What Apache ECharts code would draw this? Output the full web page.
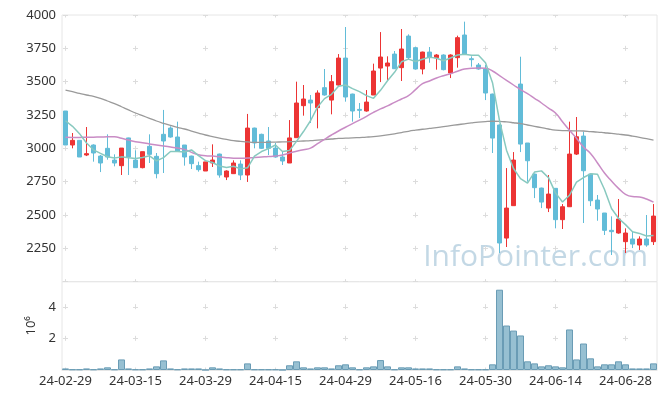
<!DOCTYPE html>
<html>
<head>
<meta charset="utf-8">
<script src="https://cdn.jsdelivr.net/npm/echarts@6/dist/echarts.min.js"></script>
<style>
  html, body { margin: 0; padding: 0; background: #fff; }
  #chart { width: 665px; height: 399px; }
</style>
</head>
<body>
<div id="chart"></div>
<script>
const dates = [
  "24-02-29",
  "24-03-04","24-03-05","24-03-06","24-03-07","24-03-08","24-03-11","24-03-12","24-03-13","24-03-14","24-03-15",
  "24-03-18","24-03-19","24-03-20","24-03-21","24-03-22","24-03-25","24-03-26","24-03-27","24-03-28","24-03-29",
  "24-04-01","24-04-02","24-04-03","24-04-04","24-04-05","24-04-08","24-04-09","24-04-11","24-04-12","24-04-15",
  "24-04-16","24-04-17","24-04-18","24-04-19","24-04-22","24-04-23","24-04-24","24-04-25","24-04-26","24-04-29",
  "24-04-30","24-05-02","24-05-03","24-05-07","24-05-08","24-05-09","24-05-10","24-05-13","24-05-14","24-05-16",
  "24-05-17","24-05-20","24-05-21","24-05-22","24-05-23","24-05-24","24-05-27","24-05-28","24-05-29","24-05-30",
  "24-05-31","24-06-03","24-06-04","24-06-05","24-06-07","24-06-10","24-06-11","24-06-12","24-06-13","24-06-14",
  "24-06-17","24-06-18","24-06-19","24-06-20","24-06-21","24-06-24","24-06-25","24-06-26","24-06-27","24-06-28",
  "24-07-01","24-07-02","24-07-03","24-07-04"
];

const opens = [
  3280,3025,3060,2950,3025,2942,3000,2912,2870,3078,
  2912,2855,3015,2940,3105,3152,3085,3025,2942,2870,
  2830,2890,2957,2785,2810,2882,2800,3152,3105,3055,
  3002,2935,2890,3080,3320,3362,3305,3455,3362,3475,
  3677,3407,3292,3280,3400,3602,3617,3707,3605,3842,
  3755,3595,3722,3680,3700,3565,3680,3850,3672,3625,
  3595,3407,3175,2327,2570,3482,3040,2807,2702,2552,
  2700,2465,2562,2957,3092,2807,2612,2515,2385,2365,
  2300,2320,2275,2320,2300
];
const closes = [
  3025,3060,2935,2960,2965,2890,2935,2890,3002,2935,
  2855,2975,2955,2810,3055,3085,2980,2935,2885,2840,
  2898,2912,2800,2830,2890,2800,3152,3040,3000,3000,
  2935,2905,3078,3340,3370,3340,3415,3400,3500,3677,
  3385,3280,3285,3347,3580,3685,3640,3597,3745,3680,
  3595,3722,3680,3700,3590,3700,3830,3707,3665,3595,
  3415,3077,2290,2552,2912,3032,2907,2705,2597,2657,
  2465,2562,2957,3087,2832,2607,2545,2385,2375,2470,
  2365,2282,2320,2275,2492
];
const highs = [
  3280,3115,3060,3160,3030,2950,3105,2955,3002,3080,
  2985,2975,3105,2965,3288,3165,3200,3025,2945,2900,
  2898,3030,2960,2835,2910,2910,3258,3155,3110,3160,
  3040,2975,3212,3500,3475,3400,3435,3595,3550,3707,
  3910,3410,3340,3437,3635,3872,3690,3730,3895,3855,
  3760,3725,3760,3707,3705,3705,3845,3950,3690,3640,
  3625,3410,3180,2852,2972,3687,3040,2810,2705,2800,
  2702,2582,3200,3235,3125,2810,2650,2515,2490,2620,
  2400,2375,2340,2500,2582
];
const lows = [
  3025,3000,2935,2942,2900,2822,2915,2865,2800,2800,
  2855,2850,2890,2775,2815,3080,2975,2870,2845,2825,
  2830,2860,2780,2762,2808,2762,2748,3000,2995,2950,
  2930,2875,2890,3080,3245,3190,3150,3395,3255,3470,
  3350,3200,3227,3275,3400,3497,3512,3595,3505,3670,
  3590,3555,3642,3590,3585,3527,3605,3700,3612,3590,
  3362,2965,2215,2260,2570,2972,2750,2627,2552,2522,
  2400,2395,2560,2950,2440,2567,2457,2350,2200,2360,
  2215,2252,2237,2262,2275
];
const volumes = [
  100000,40000,40000,100000,40000,100000,170000,40000,670000,100000,
  40000,40000,100000,230000,610000,100000,40000,100000,100000,100000,
  10000,170000,100000,40000,40000,40000,420000,40000,40000,40000,
  40000,10000,300000,550000,170000,100000,170000,170000,100000,300000,
  360000,170000,40000,170000,230000,630000,230000,40000,170000,170000,
  100000,100000,100000,40000,40000,40000,230000,100000,40000,40000,
  40000,360000,5090000,2820000,2500000,2190000,550000,420000,230000,300000,
  230000,170000,2570000,670000,1680000,740000,230000,360000,360000,550000,
  360000,100000,100000,100000,420000
];
// moving averages as drawn (5 / 20 / 60 days)
const ma5 = [
  3207,3165,3110,3040,2989,2962,2937,2928,2936,2930,
  2923,2931,2944,2906,2930,2976,2977,2973,2988,2945,
  2908,2894,2867,2856,2866,2846,2854,2942,2976,2998,
  3025,2976,2984,3052,3126,3207,3309,3373,3405,3466,
  3475,3448,3425,3395,3375,3435,3507,3570,3649,3669,
  3651,3668,3684,3675,3657,3678,3700,3705,3698,3699,
  3642,3492,3208,2986,2849,2773,2739,2822,2831,2780,
  2666,2597,2648,2746,2781,2809,2806,2691,2549,2476,
  2428,2375,2362,2342,2347
];
const ma20 = [
  3083,3082,3082,3083,3084,3085,3086,3086,3075,3062,
  3050,3042,3033,3025,3018,3010,3002,2992,2970,2952,
  2945,2942,2936,2930,2926,2925,2928,2932,2935,2938,
  2942,2950,2965,2978,2990,3002,3035,3068,3100,3130,
  3158,3185,3212,3240,3270,3296,3318,3345,3370,3395,
  3440,3485,3505,3528,3545,3560,3578,3595,3600,3602,
  3600,3580,3545,3510,3475,3440,3410,3375,3340,3302,
  3265,3200,3135,3075,3010,2962,2890,2815,2755,2700,
  2655,2638,2635,2620,2597
];
const ma60 = [
  3437,3425,3412,3400,3390,3375,3355,3335,3312,3288,
  3265,3245,3225,3205,3188,3172,3158,3145,3130,3115,
  3100,3088,3077,3067,3058,3052,3048,3045,3044,3045,
  3047,3048,3050,3052,3055,3058,3062,3066,3070,3074,
  3076,3078,3081,3084,3088,3094,3101,3109,3118,3128,
  3136,3143,3149,3155,3163,3170,3177,3184,3191,3197,
  3201,3203,3202,3198,3192,3185,3175,3165,3155,3145,
  3137,3133,3132,3131,3130,3126,3122,3117,3112,3106,
  3100,3092,3083,3073,3062
];
const priceTicks = [2000, 4000, 250];
const volumeTicks = [0, 5600000, 2000000];

const candleData = [];
for (let i = 0; i < dates.length; i++) {
  candleData.push([opens[i], closes[i], lows[i], highs[i]]);
}

const font = '"Noto Sans", sans-serif';
const crossColor = "#dcdcdc";

let option = {
  animation: false,
  backgroundColor: "#fff",
  grid: [
    { left: 62, right: 8, top: 15, height: 266.67, show: true, borderColor: "#e6e6e6", borderWidth: 1 },
    { left: 62, right: 8, top: 281.67, height: 88.33, show: true, borderColor: "#e6e6e6", borderWidth: 1 },
  ],
  graphic: [
    {
      type: "text",
      right: 17,
      top: 242,
      z: 0,
      style: {
        text: "InfoPointer.com",
        font: '30px "Open Sans", sans-serif',
        fill: "rgba(135,178,204,0.5)",
      },
    },
  ],
  xAxis: [
    {
      type: "category",
      gridIndex: 0,
      data: dates,
      axisLine: { show: false },
      axisTick: { show: false },
      axisLabel: { show: false },
      splitLine: {
        show: true,
        interval: 9,
        alignWithLabel: true,
        lineStyle: { color: crossColor, type: [5, 28.333], dashOffset: 2.5 },
      },
    },
    {
      type: "category",
      gridIndex: 1,
      data: dates,
      axisLine: { lineStyle: { color: "#e6e6e6" } },
      axisTick: { show: false },
      axisLabel: { interval: 9, color: "#333", fontSize: 13, fontFamily: font, margin: 5 },
      splitLine: {
        show: true,
        interval: 9,
        alignWithLabel: true,
        lineStyle: { color: crossColor, type: [5, 26.667], dashOffset: 9.17 },
      },
    },
  ],
  yAxis: [
    {
      type: "value",
      gridIndex: 0,
      min: priceTicks[0],
      max: priceTicks[1],
      interval: priceTicks[2],
      axisLine: { show: false },
      axisTick: { show: false },
      axisLabel: {
        showMinLabel: false,
        color: "#333",
        fontSize: 13,
        fontFamily: font,
        margin: 6,
        formatter: function (v) { return String(v); },
      },
      splitLine: { lineStyle: { color: crossColor, type: [5, 65], dashOffset: 69 } },
    },
    {
      type: "value",
      gridIndex: 1,
      min: volumeTicks[0],
      max: volumeTicks[1],
      interval: volumeTicks[2],
      name: "10\u2076",
      nameLocation: "middle",
      nameRotate: 90,
      nameGap: 24,
      nameTextStyle: { color: "#333", fontSize: 13, fontFamily: font },
      axisLine: { show: false },
      axisTick: { show: false },
      axisLabel: {
        showMinLabel: false,
        showMaxLabel: false,
        color: "#333",
        fontSize: 13,
        fontFamily: font,
        margin: 6,
        formatter: function (v) { return String(v / 1000000); },
      },
      splitLine: { lineStyle: { color: crossColor, type: [5, 65], dashOffset: 69 } },
    },
  ],
  series: [
    {
      type: "candlestick",
      xAxisIndex: 0,
      yAxisIndex: 0,
      barWidth: 5,
      data: candleData,
      itemStyle: {
        color: "#ec3434",
        color0: "#62bcd8",
        borderColor: "#ec3434",
        borderColor0: "#62bcd8",
        borderWidth: 1,
      },
    },
    {
      type: "line", xAxisIndex: 0, yAxisIndex: 0, data: ma60, showSymbol: false, smooth: true,
      lineStyle: { color: "#9a9a9a", width: 1.3 },
    },
    {
      type: "line", xAxisIndex: 0, yAxisIndex: 0, data: ma20, showSymbol: false, smooth: true,
      lineStyle: { color: "#c98cc5", width: 1.5 },
    },
    {
      type: "line", xAxisIndex: 0, yAxisIndex: 0, data: ma5, showSymbol: false,
      lineStyle: { color: "#88c9bf", width: 1.5 },
    },
    {
      type: "bar",
      xAxisIndex: 1,
      yAxisIndex: 1,
      barCategoryGap: "0%",
      data: volumes,
      itemStyle: { color: "#97c0d2", borderColor: "#6a9cb5", borderWidth: 1 },
    },
  ],
};

const chartObj = echarts.init(document.getElementById("chart"));
chartObj.setOption(option);
</script>
</body>
</html>
